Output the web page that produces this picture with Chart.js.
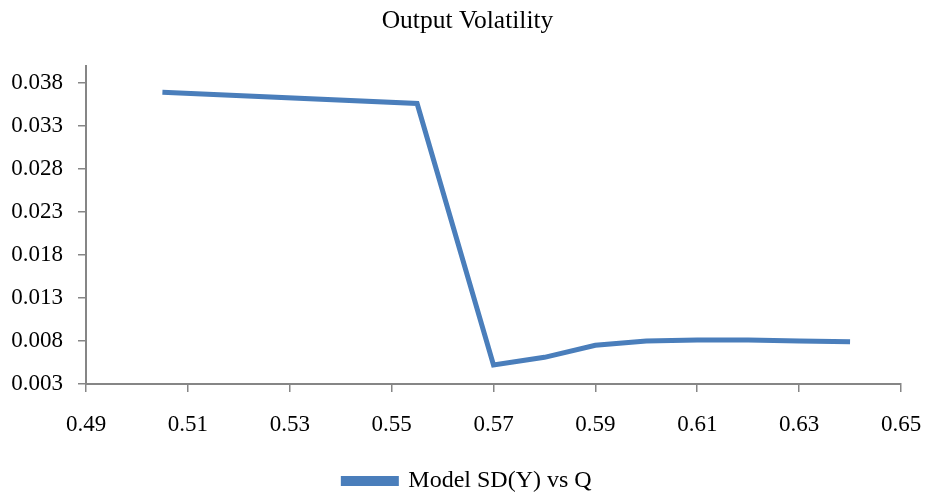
<!DOCTYPE html>
<html>
<head>
<meta charset="utf-8">
<script src="https://cdn.jsdelivr.net/npm/chart.js@4.4.1/dist/chart.umd.min.js"></script>
<style>
  html, body { margin: 0; padding: 0; background: #fff; }
  #wrap { width: 927px; height: 499px; }
</style>
</head>
<body>
<div id="wrap"><canvas id="chart" width="927" height="499"></canvas></div>
<script>
const qValues = [0.505, 0.555, 0.57, 0.58, 0.59, 0.60, 0.61, 0.62, 0.63, 0.64];
const sdValues = [0.0369, 0.0356, 0.0052, 0.0061, 0.0075, 0.0080, 0.0081, 0.0081, 0.0080, 0.0079];
const yTicks = [0.003, 0.008, 0.013, 0.018, 0.023, 0.028, 0.033, 0.038];
const xTicks = [0.49, 0.51, 0.53, 0.55, 0.57, 0.59, 0.61, 0.63, 0.65];

const serif = "'Liberation Serif', 'Times New Roman', serif";
const axisGrey = "#868686";
const lineBlue = "#4a7ebb";

new Chart(document.getElementById("chart"), {
  type: "line",
  data: {
    datasets: [{
      label: "Model SD(Y) vs Q",
      data: qValues.map((q, i) => ({ x: q, y: sdValues[i] })),
      borderColor: lineBlue,
      backgroundColor: lineBlue,
      borderWidth: 5,
      pointRadius: 0,
      tension: 0,
      fill: false
    }]
  },
  options: {
    responsive: false,
    animation: false,
    layout: { padding: { left: 8, right: 0, top: 0, bottom: -4 } },
    plugins: {
      title: {
        display: true,
        text: "Output Volatility",
        color: "#000",
        font: { family: serif, size: 25.5, weight: "normal" },
        padding: { top: 6, bottom: 29 }
      },
      legend: {
        position: "bottom",
        labels: {
          color: "#000",
          font: { family: serif, size: 24 },
          boxWidth: 53,
          boxHeight: 5,
          padding: 2
        }
      },
      tooltip: { enabled: false }
    },
    scales: {
      x: {
        type: "linear",
        min: 0.49,
        max: 0.65,
        afterBuildTicks: s => { s.ticks = xTicks.map(v => ({ value: v })); },
        afterFit: s => { s.height = 83; s.paddingLeft = 0; s.paddingRight = 26; },
        ticks: {
          color: "#000",
          font: { family: serif, size: 23 },
          maxRotation: 0,
          padding: 19,
          callback: v => v.toFixed(2)
        },
        grid: { drawOnChartArea: false, drawTicks: true, tickLength: 8, color: axisGrey, lineWidth: 1.5 },
        border: { display: true, color: axisGrey, width: 2 }
      },
      y: {
        min: 0.003,
        max: 0.040,
        afterBuildTicks: s => { s.ticks = yTicks.map(v => ({ value: v })); },
        afterFit: s => { s.width = 78; },
        ticks: {
          color: "#000",
          font: { family: serif, size: 23 },
          padding: 15,
          callback: v => v.toFixed(3)
        },
        grid: { drawOnChartArea: false, drawTicks: true, tickLength: 8, color: axisGrey, lineWidth: 1.5 },
        border: { display: true, color: axisGrey, width: 2 }
      }
    }
  }
});
</script>
</body>
</html>
